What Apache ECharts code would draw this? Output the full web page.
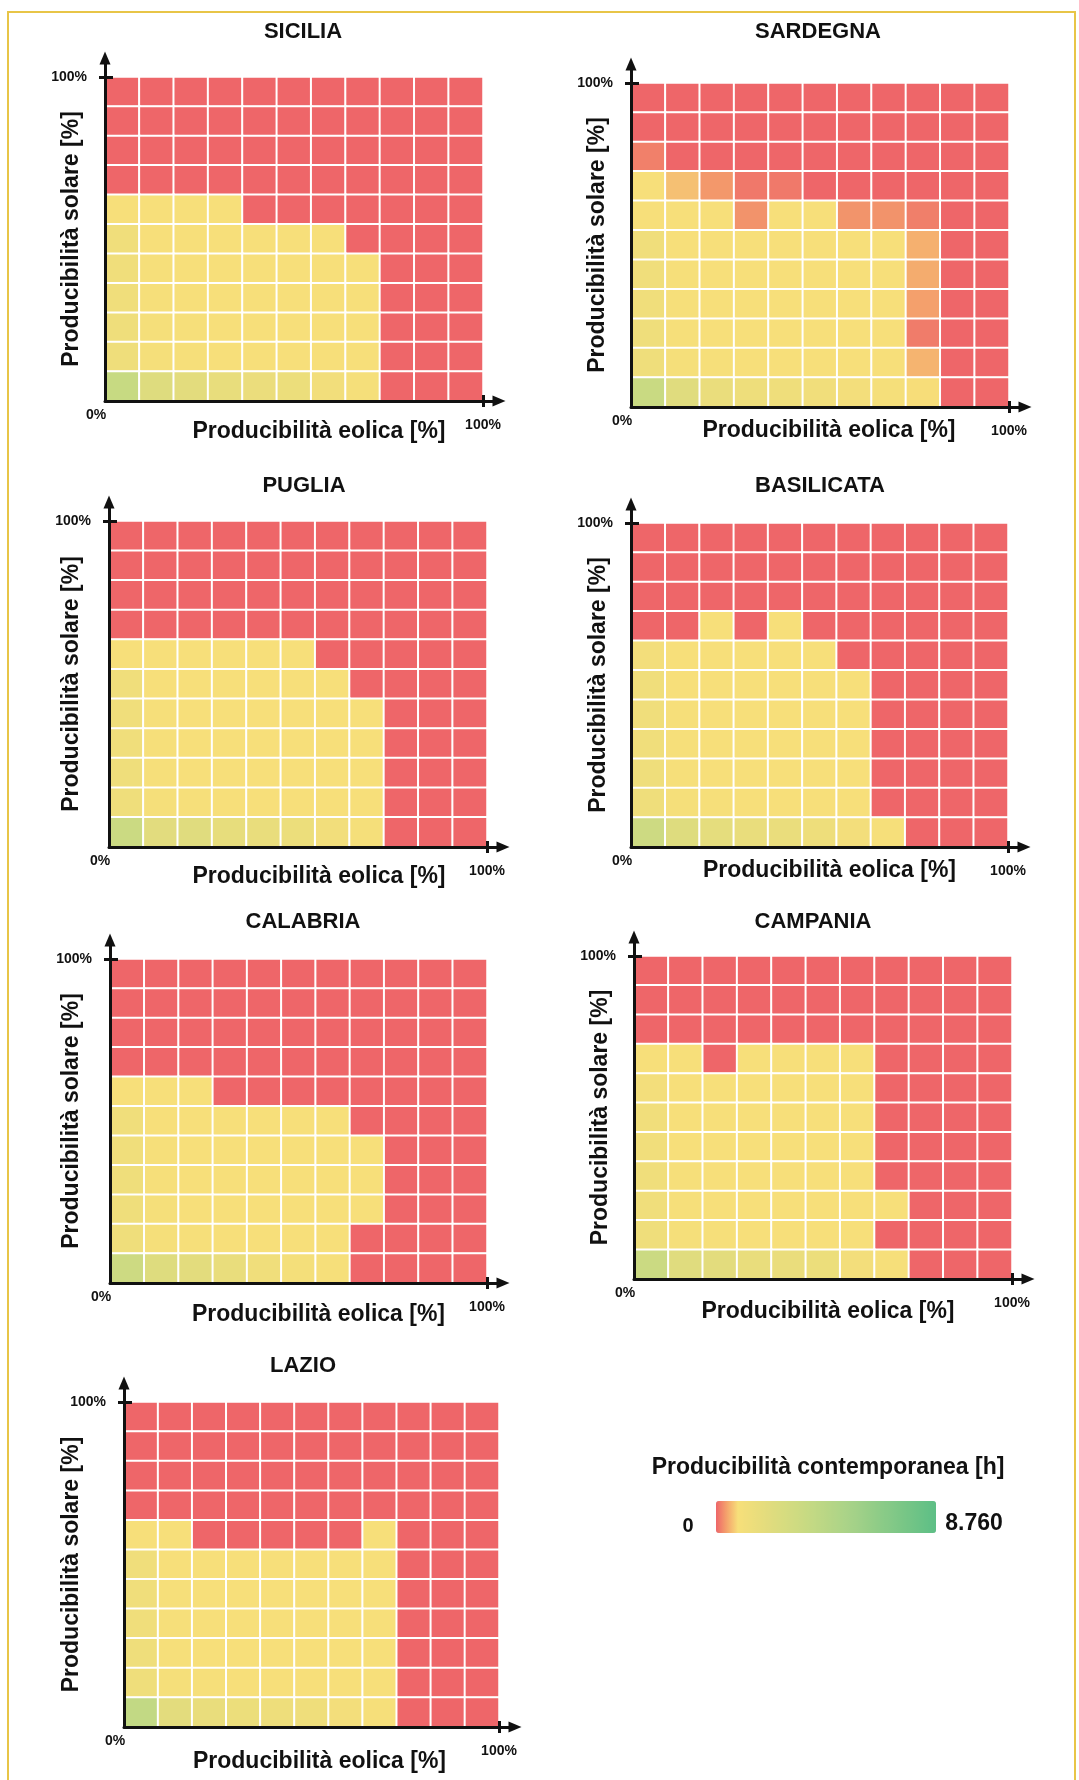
<!DOCTYPE html>
<html>
<head>
<meta charset="utf-8">
<script src="https://cdn.jsdelivr.net/npm/echarts@6/dist/echarts.min.js"></script>
<style>
html,body{margin:0;padding:0;background:#fff;}
#chart{width:1079px;height:1780px;}
</style>
</head>
<body>
<div id="chart"></div>
<script>
// ---------------- DATA ----------------
const regions = ['SICILIA', 'SARDEGNA', 'PUGLIA', 'BASILICATA', 'CALABRIA', 'CAMPANIA', 'LAZIO'];
const windSteps = ['0', '10', '20', '30', '40', '50', '60', '70', '80', '90', '100'];   // eolica, left -> right
const solarSteps = ['0', '10', '20', '30', '40', '50', '60', '70', '80', '90', '100'];  // solare, bottom -> top
const tickLabels = ['0%', '100%'];
const legendLabels = ['0', '8.760'];
const legendTitle = 'Producibilità contemporanea [h]';
const xName = 'Producibilità eolica [%]';
const yName = 'Producibilità solare [%]';

// hours of simultaneous production; rows listed from top (solar 100%) to bottom (solar 0%)
const sicilia = [
  [0,0,0,0,0,0,0,0,0,0,0],
  [0,0,0,0,0,0,0,0,0,0,0],
  [0,0,0,0,0,0,0,0,0,0,0],
  [0,0,0,0,0,0,0,0,0,0,0],
  [880,880,880,880,0,0,0,0,0,0,0],
  [1250,900,880,880,880,880,880,0,0,0,0],
  [1250,950,900,880,880,880,880,880,0,0,0],
  [1250,950,900,880,880,880,880,880,0,0,0],
  [1300,1000,950,900,880,880,880,880,0,0,0],
  [1300,1000,950,900,900,880,880,880,0,0,0],
  [3600,2300,2000,1750,1560,1500,1160,990,0,0,0]
];
const sardegna = [
  [0,0,0,0,0,0,0,0,0,0,0],
  [0,0,0,0,0,0,0,0,0,0,0],
  [183,0,0,0,0,0,0,0,0,0,0],
  [880,645,353,127,135,0,0,0,0,0,0],
  [880,880,880,318,880,880,324,320,180,0,0],
  [1250,900,880,880,880,880,880,880,525,0,0],
  [1250,950,900,880,880,880,880,880,497,0,0],
  [1250,950,900,880,880,880,880,880,410,0,0],
  [1300,950,900,880,880,880,880,880,155,0,0],
  [1300,1000,950,900,880,880,880,880,555,0,0],
  [3500,2200,1600,1400,1300,1200,1100,1000,860,0,0]
];
const puglia = [
  [0,0,0,0,0,0,0,0,0,0,0],
  [0,0,0,0,0,0,0,0,0,0,0],
  [0,0,0,0,0,0,0,0,0,0,0],
  [0,0,0,0,0,0,0,0,0,0,0],
  [880,880,880,880,880,880,0,0,0,0,0],
  [1250,900,880,880,880,880,880,0,0,0,0],
  [1250,950,900,880,880,880,880,880,0,0,0],
  [1250,950,900,880,880,880,880,880,0,0,0],
  [1300,950,900,880,880,880,880,880,0,0,0],
  [1300,1000,950,900,880,880,880,880,0,0,0],
  [3400,2100,2200,1800,1700,1500,1150,990,0,0,0]
];
const basilicata = [
  [0,0,0,0,0,0,0,0,0,0,0],
  [0,0,0,0,0,0,0,0,0,0,0],
  [0,0,0,0,0,0,0,0,0,0,0],
  [0,0,880,0,880,0,0,0,0,0,0],
  [1100,880,880,880,880,880,0,0,0,0,0],
  [1250,900,880,880,880,880,880,0,0,0,0],
  [1250,950,900,880,880,880,880,0,0,0,0],
  [1250,950,900,880,880,880,880,0,0,0,0],
  [1300,950,900,880,880,880,880,0,0,0,0],
  [1300,1000,950,900,880,880,880,0,0,0,0],
  [3300,2300,1900,1700,1600,1400,1100,950,0,0,0]
];
const calabria = [
  [0,0,0,0,0,0,0,0,0,0,0],
  [0,0,0,0,0,0,0,0,0,0,0],
  [0,0,0,0,0,0,0,0,0,0,0],
  [0,0,0,0,0,0,0,0,0,0,0],
  [880,880,880,0,0,0,0,0,0,0,0],
  [1250,900,880,880,880,880,880,0,0,0,0],
  [1250,950,900,880,880,880,880,880,0,0,0],
  [1300,950,900,880,880,880,880,880,0,0,0],
  [1300,1000,900,880,880,880,880,880,0,0,0],
  [1300,1000,950,900,880,880,880,0,0,0,0],
  [3300,2300,2000,1700,1250,1050,950,0,0,0,0]
];
const campania = [
  [0,0,0,0,0,0,0,0,0,0,0],
  [0,0,0,0,0,0,0,0,0,0,0],
  [0,0,0,0,0,0,0,0,0,0,0],
  [880,880,0,880,880,880,880,0,0,0,0],
  [1100,880,880,880,880,880,880,0,0,0,0],
  [1200,900,880,880,880,880,880,0,0,0,0],
  [1200,900,880,880,880,880,880,0,0,0,0],
  [1250,950,900,880,880,880,880,0,0,0,0],
  [1250,950,900,880,880,880,880,880,0,0,0],
  [1300,1000,950,900,880,880,880,0,0,0,0],
  [3400,2200,2000,1700,1600,1500,1100,950,0,0,0]
];
const lazio = [
  [0,0,0,0,0,0,0,0,0,0,0],
  [0,0,0,0,0,0,0,0,0,0,0],
  [0,0,0,0,0,0,0,0,0,0,0],
  [0,0,0,0,0,0,0,0,0,0,0],
  [880,880,0,0,0,0,0,880,0,0,0],
  [1250,900,880,880,880,880,880,880,0,0,0],
  [1250,950,900,880,880,880,880,880,0,0,0],
  [1250,950,900,880,880,880,880,880,0,0,0],
  [1300,950,900,880,880,880,880,880,0,0,0],
  [1300,1000,950,900,880,880,880,880,0,0,0],
  [3900,2000,1700,1500,1400,1300,1100,950,0,0,0]
];
const matrices = [sicilia, sardegna, puglia, basilicata, calabria, campania, lazio];

// ---------------- STYLE / LAYOUT ----------------
const FONT = '"Liberation Sans", Arial, Helvetica, sans-serif';
const INK = '#111111';
const colorStops = [
  '#ee6669', '#f4a46c', '#f7df7a', '#efde7b', '#e8dd7c', '#e0dc7e', '#d8dc7f',
  '#d1db81', '#c9da82', '#c1d984', '#b9d685', '#b1d587', '#a9d388', '#a0d088',
  '#96ce87', '#8ccb87', '#83c987', '#79c686', '#70c486', '#66c186', '#5dbf86'
];
// left, top, width, height, titleX, titleY, xNameGap, xNameShift, yNameGap
const layout = [
  [105, 77, 378, 324, 303, 33, 19.5, 25, 21.5],
  [631, 83, 378, 324, 818, 33, 12.5, 9, 21.5],
  [109, 521, 378, 326, 304, 487, 18.5, 21, 25.5],
  [631, 523, 377, 324, 820, 487, 12.5, 10, 20.5],
  [110, 959, 377, 324, 303, 923, 20.5, 20, 26.5],
  [634, 956, 378, 323, 813, 923, 21.5, 5, 21.5],
  [124, 1402, 375, 325, 303, 1367, 23.5, 8, 40.5]
];
const EXT_X = 16, EXT_Y = 19;
const axisLineStyle = {color: INK, width: 3};

const option = {
  backgroundColor: '#ffffff',
  animation: false,
  title: [],
  grid: [],
  xAxis: [],
  yAxis: [],
  series: [],
  visualMap: {
    type: 'continuous',
    min: 0,
    max: 8760,
    calculable: false,
    hoverLink: false,
    orient: 'horizontal',
    left: 716,
    top: 1501,
    padding: 0,
    itemWidth: 32,
    itemHeight: 220,
    inRange: {color: colorStops}
  },
  graphic: [{
    type: 'rect', silent: true, z: -10,
    shape: {x: 8, y: 12, width: 1067, height: 1800},
    style: {fill: 'none', stroke: '#e8c547', lineWidth: 2}
  }]
};

const textBase = {fontFamily: FONT, fontWeight: 'bold', color: INK};

layout.forEach((P, p) => {
  const [L, T, W, H, tx, ty, xGap, xShift, yGap] = P;
  option.title.push({
    text: regions[p], left: tx, top: ty - 12, textAlign: 'center', padding: 0,
    textStyle: Object.assign({fontSize: 22}, textBase)
  });
  option.grid.push({left: L, top: T, width: W, height: H});
  option.grid.push({left: L, top: T - EXT_Y, width: W + EXT_X, height: H + EXT_Y});
  const gHeat = 2 * p, gAx = 2 * p + 1;
  const xMax = 100 * (W + EXT_X) / W;
  const yMax = 100 * (H + EXT_Y) / H;

  // category axes carrying the heatmap
  option.xAxis.push({
    type: 'category', gridIndex: gHeat, data: windSteps, position: 'bottom',
    axisLine: {show: false}, axisTick: {show: false}, axisLabel: {show: false}, splitLine: {show: false},
    name: xName, nameLocation: 'middle', nameGap: xGap,
    nameTextStyle: Object.assign({fontSize: 23, padding: [0, 0, 0, 2 * xShift]}, textBase)
  });
  option.yAxis.push({
    type: 'category', gridIndex: gHeat, data: solarSteps, position: 'left',
    axisLine: {show: false}, axisTick: {show: false}, axisLabel: {show: false}, splitLine: {show: false},
    name: yName, nameLocation: 'middle', nameRotate: 90, nameGap: yGap,
    nameTextStyle: Object.assign({fontSize: 23}, textBase)
  });
  // arrow axes (outer ticks + labels)
  option.xAxis.push({
    type: 'value', gridIndex: gAx, min: 0, max: xMax, position: 'bottom', z: 10,
    axisLine: {show: true, onZero: false, symbol: ['none', 'triangle'], symbolSize: [11, 13], lineStyle: axisLineStyle},
    axisTick: {show: true, inside: false, length: 6, customValues: [100], lineStyle: axisLineStyle},
    axisLabel: Object.assign({
      show: true, customValues: [0, 100], margin: 7, fontSize: 14,
      formatter: v => (v === 0 ? '{a|' + tickLabels[0] + '}' : '{b|' + tickLabels[1] + '}'),
      rich: {
        a: Object.assign({fontSize: 14, padding: [0, 18, 0, 0]}, textBase),
        b: Object.assign({fontSize: 14, padding: [10, 0, 0, 0]}, textBase)
      }
    }, textBase),
    splitLine: {show: false}
  });
  option.xAxis.push({
    type: 'value', gridIndex: gAx, min: 0, max: xMax, position: 'bottom', z: 10,
    axisLine: {show: false, onZero: false},
    axisTick: {show: true, inside: true, length: 6, customValues: [100], lineStyle: axisLineStyle},
    axisLabel: {show: false}, splitLine: {show: false}
  });
  option.yAxis.push({
    type: 'value', gridIndex: gAx, min: 0, max: yMax, position: 'left', z: 10,
    axisLine: {show: true, onZero: false, symbol: ['none', 'triangle'], symbolSize: [11, 13], lineStyle: axisLineStyle},
    axisTick: {show: true, inside: false, length: 6, customValues: [100], lineStyle: axisLineStyle},
    axisLabel: Object.assign({show: true, customValues: [100], margin: 18, fontSize: 14,
      formatter: () => tickLabels[1]}, textBase),
    splitLine: {show: false}
  });
  option.yAxis.push({
    type: 'value', gridIndex: gAx, min: 0, max: yMax, position: 'left', z: 10,
    axisLine: {show: false, onZero: false},
    axisTick: {show: true, inside: true, length: 8, customValues: [100], lineStyle: axisLineStyle},
    axisLabel: {show: false}, splitLine: {show: false}
  });

  const m = matrices[p];
  const data = [];
  m.forEach((row, r) => row.forEach((v, c) => data.push([c, solarSteps.length - 1 - r, v])));
  option.series.push({
    type: 'heatmap', name: regions[p],
    xAxisIndex: 3 * p, yAxisIndex: 3 * p,
    data: data,
    itemStyle: {borderColor: '#ffffff', borderWidth: 2},
    emphasis: {disabled: true}
  });
});

// legend texts
option.title.push({
  text: legendTitle, left: 828, top: 1456, textAlign: 'center', padding: 0,
  textStyle: Object.assign({fontSize: 23}, textBase)
});
option.title.push({
  text: legendLabels[0], left: 688, top: 1516, textAlign: 'center', padding: 0,
  textStyle: Object.assign({fontSize: 20}, textBase)
});
option.title.push({
  text: legendLabels[1], left: 974, top: 1512, textAlign: 'center', padding: 0,
  textStyle: Object.assign({fontSize: 23}, textBase)
});

const chart = echarts.init(document.getElementById('chart'), null, {renderer: 'canvas'});
chart.setOption(option);
</script>
</body>
</html>
